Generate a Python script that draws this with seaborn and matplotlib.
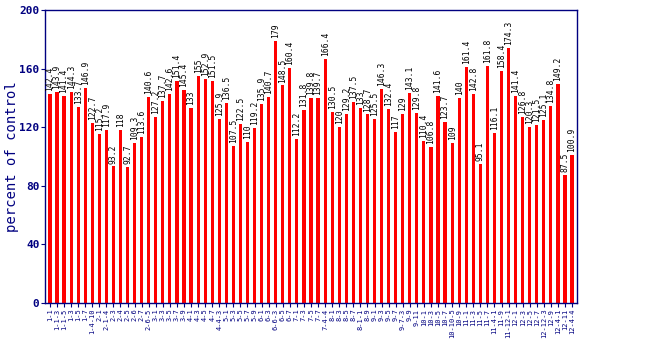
import matplotlib
matplotlib.use("Agg")
import matplotlib.pyplot as plt
import seaborn as sns
import pandas as pd

samples = [
    "1-1", "1-1-3", "1-1-5", "1-3", "1-5", "1-7", "1-4-10",
    "2-1", "2-1-4", "2-3", "2-4", "2-5", "2-6", "2-7", "2-6-5",
    "3-1", "3-3", "3-5", "3-7", "3-9",
    "4-1", "4-3", "4-5", "4-7", "4-4-3",
    "5-1", "5-3", "5-5", "5-7", "5-9",
    "6-1", "6-3", "6-6-3", "6-5", "6-7",
    "7-1", "7-3", "7-5", "7-7", "7-4-4",
    "8-1", "8-3", "8-5", "8-7", "8-1-1", "8-9",
    "9-1", "9-3", "9-5", "9-7", "9-7-3", "9-9", "9-11",
    "10-1", "10-3", "10-5", "10-7", "10-10-5", "10-9",
    "11-1", "11-3", "11-5", "11-7", "11-4-1", "11-9", "11-12-1",
    "12-1", "12-3", "12-5", "12-7", "12-12-3", "12-9", "12-4-1", "12-11", "12-4-4",
]

percent = [
    142.4, 143.9, 141.4, 144.3, 133.7, 146.9, 122.7, 115.2, 117.9, 93.2,
    118, 92.7, 109.3, 113.6, 140.6, 127.2, 137.7, 142.6, 151.4, 145.4,
    133, 155, 152.9, 151.5, 125.9, 136.5, 107.5, 122.5, 110, 119.2,
    135.9, 140.7, 179, 148.5, 160.4, 112.2, 131.8, 139.8, 139.7, 166.4,
    130.5, 120, 129.2, 137.5, 133, 128.7, 125.5, 146.3, 132.4, 117,
    129, 143.1, 129.8, 110.4, 106.8, 141.6, 123.7, 109, 140, 161.4,
    142.8, 95.1, 161.8, 116.1, 158.4, 174.3, 141.4, 126.8, 120.3, 121.5,
    125.1, 134.8, 149.2, 87.5, 100.9,
]

y_ticks = [0, 40, 80, 120, 160, 200]

navy = "#000080"
mono = "DejaVu Sans Mono"

sns.set_style("white")
plt.rcParams["font.family"] = [mono, "DejaVu Sans"]

df = pd.DataFrame({"sample": samples, "percent": percent})

fig = plt.figure(figsize=(6.5, 3.5), dpi=100)
ax = fig.add_axes([45 / 650, 47 / 350, 532 / 650, 293 / 350])

sns.barplot(data=df, x="sample", y="percent", order=samples, color="red",
            saturation=1, width=0.45, ax=ax, errorbar=None)
for p in ax.patches:
    p.set_edgecolor("none")

for i, v in enumerate(percent):
    ax.text(i, v + 2, f"{v:g}", rotation=90, ha="center", va="bottom",
            fontsize=5.8, color="black", family=mono)

ax.set_xlim(-0.7, len(samples) - 0.3)
ax.set_ylim(0, 200)
ax.set_yticks(y_ticks)
ax.set_yticklabels([str(t) for t in y_ticks], fontsize=8, fontweight="bold",
                   color=navy, family=mono)
ax.set_xticks(range(len(samples)))
ax.set_xticklabels(samples, rotation=90, fontsize=5, color=navy, family=mono)
ax.tick_params(axis="both", direction="out", length=3, width=0.8, color=navy,
               left=True, bottom=True, pad=1)
ax.set_xlabel("")
ax.set_ylabel("percent of control", fontsize=10, color=navy, family=mono)
ax.yaxis.set_label_coords(-26 / 532, 0.5)

for s in ax.spines.values():
    s.set_color(navy)
    s.set_linewidth(1)
    s.set_visible(True)

fig.savefig("out.png", dpi=100)
